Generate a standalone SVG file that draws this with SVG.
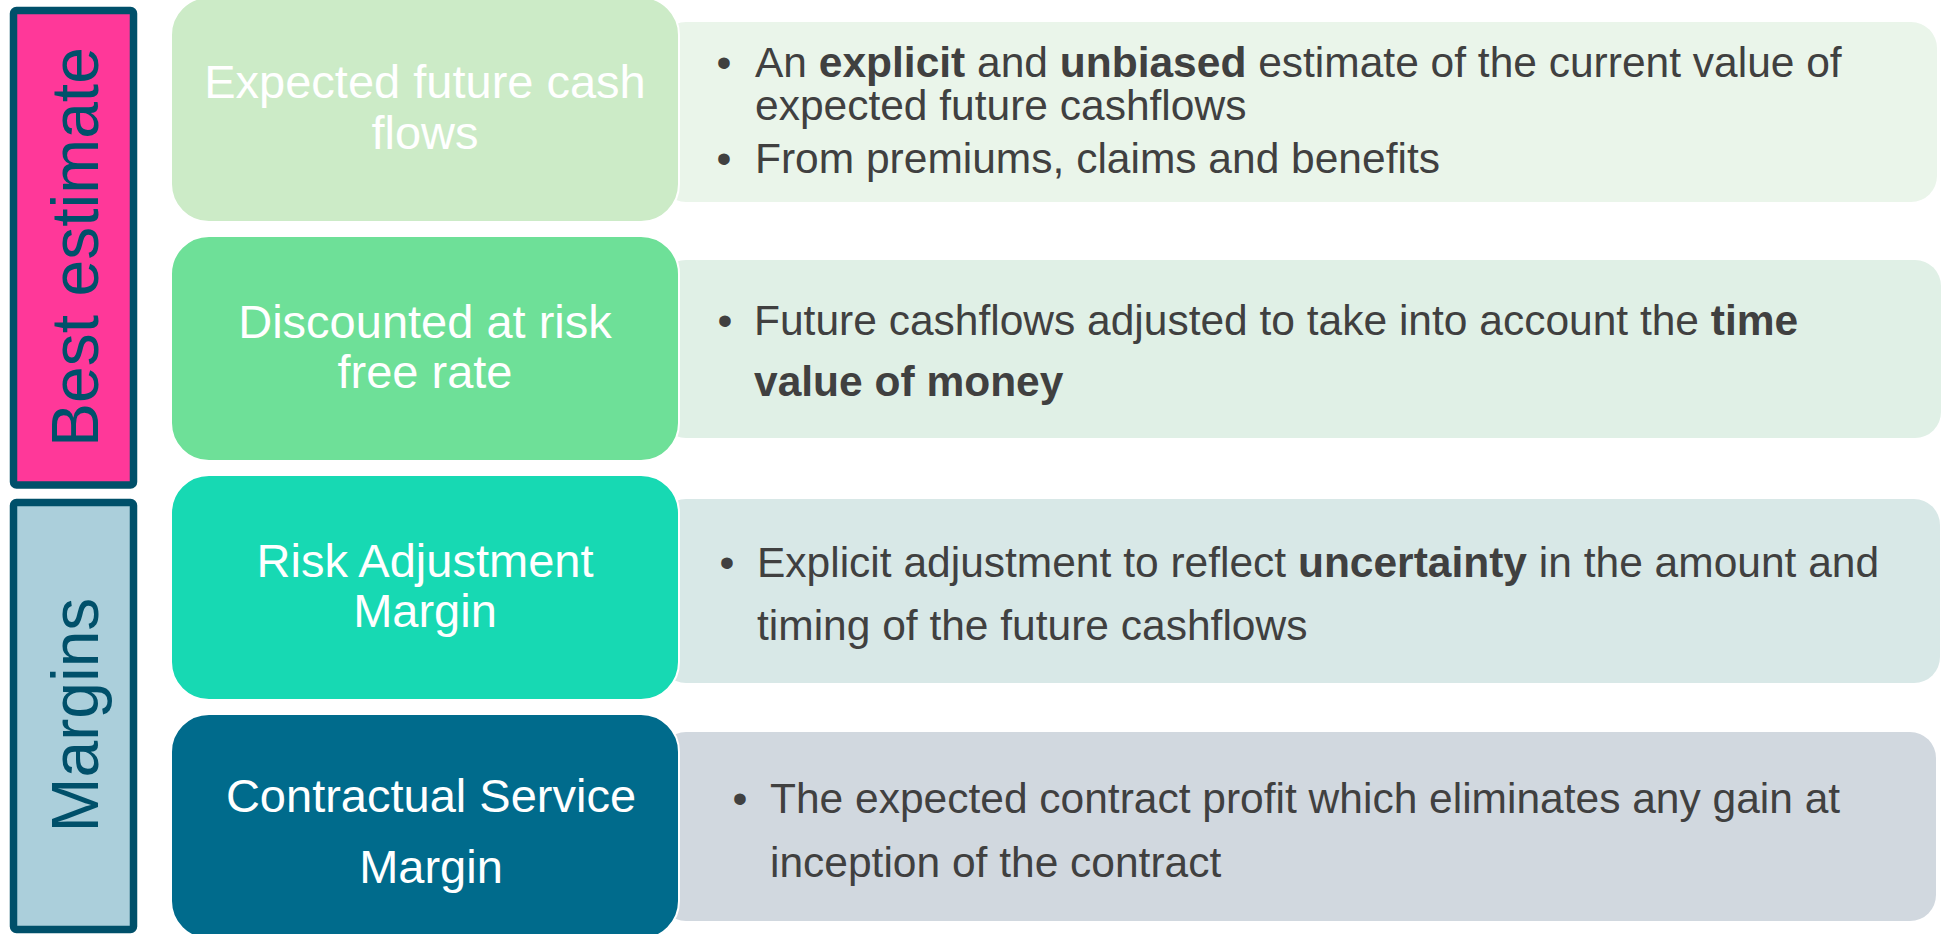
<svg xmlns="http://www.w3.org/2000/svg" width="1942" height="934" viewBox="0 0 1942 934">
<style>
.bar{stroke:#00506A;stroke-width:7.5}
.bartxt{font-family:"Liberation Sans",Arial,sans-serif;font-size:66px;fill:#00506A;text-anchor:middle}
.box{stroke:#FFFFFF;stroke-width:2}
.boxtxt{font-family:"Liberation Sans",Arial,sans-serif;font-size:47px;fill:#FFFFFF;text-anchor:middle}
.ptxt{font-family:"Liberation Sans",Arial,sans-serif;font-size:42.5px;fill:#404040}
.bul{font-family:"Liberation Sans",Arial,sans-serif;font-size:42.5px;fill:#404040;text-anchor:middle}
.b{font-weight:bold}
</style>
<rect width="1942" height="934" fill="#FFFFFF"/>
<g id="bar-best-estimate">
<rect class="bar" x="13.5" y="10.5" width="120" height="474.5" rx="3" fill="#FF3899"/>
<text class="bartxt" transform="translate(98,247) rotate(-90)">Best estimate</text>
</g>
<g id="bar-margins">
<rect class="bar" x="13.5" y="502.5" width="120" height="427" rx="3" fill="#ABCFDB"/>
<text class="bartxt" transform="translate(98,715) rotate(-90)">Margins</text>
</g>
<g id="panel-1">
<rect x="660" y="22" width="1277" height="180" rx="26" fill="#EAF5EA"/>
<text class="bul" x="724" y="77">•</text>
<text class="ptxt" x="755" y="77">An <tspan class="b">explicit</tspan> and <tspan class="b">unbiased</tspan> estimate of the current value of</text>
<text class="ptxt" x="755" y="120">expected future cashflows</text>
<text class="bul" x="724" y="173">•</text>
<text class="ptxt" x="755" y="173">From premiums, claims and benefits</text>
</g>
<g id="panel-2">
<rect x="660" y="260" width="1281" height="178" rx="26" fill="#E0F0E6"/>
<text class="bul" x="725" y="335">•</text>
<text class="ptxt" x="754" y="335">Future cashflows adjusted to take into account the <tspan class="b">time</tspan></text>
<text class="ptxt b" x="754" y="396">value of money</text>
</g>
<g id="panel-3">
<rect x="660" y="499" width="1280" height="184" rx="26" fill="#D8E8E7"/>
<text class="bul" x="727" y="577">•</text>
<text class="ptxt" x="757" y="577">Explicit adjustment to reflect <tspan class="b">uncertainty</tspan> in the amount and</text>
<text class="ptxt" x="757" y="640">timing of the future cashflows</text>
</g>
<g id="panel-4">
<rect x="660" y="732" width="1276" height="189" rx="26" fill="#D1D8DF"/>
<text class="bul" x="740" y="813">•</text>
<text class="ptxt" x="770" y="813">The expected contract profit which eliminates any gain at</text>
<text class="ptxt" x="770" y="877">inception of the contract</text>
</g>
<g id="box-expected-cash-flows">
<rect class="box" x="171" y="-3" width="508" height="225" rx="38" fill="#CCEBC7"/>
<text class="boxtxt" x="425" y="98">Expected future cash</text>
<text class="boxtxt" x="425" y="149">flows</text>
</g>
<g id="box-discounted">
<rect class="box" x="171" y="236" width="508" height="225" rx="38" fill="#6EE098"/>
<text class="boxtxt" x="425" y="338">Discounted at risk</text>
<text class="boxtxt" x="425" y="388">free rate</text>
</g>
<g id="box-risk-adjustment">
<rect class="box" x="171" y="475" width="508" height="225" rx="38" fill="#17D9B3"/>
<text class="boxtxt" x="425" y="577">Risk Adjustment</text>
<text class="boxtxt" x="425" y="627">Margin</text>
</g>
<g id="box-csm">
<rect class="box" x="171" y="714" width="508" height="225" rx="38" fill="#006B8C"/>
<text class="boxtxt" x="431" y="812">Contractual Service</text>
<text class="boxtxt" x="431" y="883">Margin</text>
</g>
<g id="connectors"/>
</svg>
